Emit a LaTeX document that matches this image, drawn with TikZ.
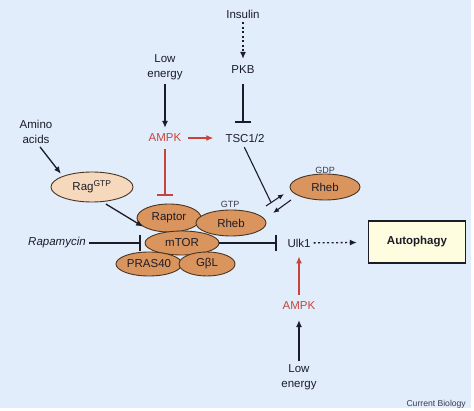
\documentclass[tikz,border=0pt]{standalone}
\usepackage{fontspec}
\setmainfont{Liberation Sans}
\usetikzlibrary{arrows.meta,shapes.geometric}
\definecolor{bgcol}{HTML}{E1EDFB}
\definecolor{redc}{HTML}{C8433A}
\definecolor{darkc}{HTML}{1C1C28}
\definecolor{orfill}{HTML}{DA945E}
\definecolor{ragfill}{HTML}{F6D8BC}
\definecolor{ellline}{HTML}{4A3422}
\definecolor{autofill}{HTML}{FFFDE0}
\definecolor{smallc}{HTML}{3A3A4A}
\begin{document}
\begin{tikzpicture}[x=1pt,y=-1pt,
  lbl/.style={font=\fontsize{11.5}{15}\selectfont, text=darkc, inner sep=2pt, align=center},
  redlbl/.style={lbl, text=redc},
  small/.style={font=\fontsize{9}{10}\selectfont, text=smallc, inner sep=1pt},
  prot/.style={ellipse, draw=ellline, line width=0.9pt, fill=orfill, inner sep=0pt,
     font=\fontsize{11.5}{14}\selectfont, text=darkc},
  act/.style={-{Latex[length=7pt,width=6pt]}, line width=1.3pt, draw=darkc},
  inh/.style={-{Bar[width=16pt,line width=1.4pt]}, line width=1.3pt, draw=darkc},
  dotact/.style={act, dash pattern=on 2pt off 2.5pt},
]
\useasboundingbox (0,0) rectangle (474,411);
\fill[bgcol] (0,0) rectangle (471,408);

% text nodes
\node[lbl] (ins) at (243,14) {Insulin};
\node[lbl] (pkb) at (243,70) {PKB};
\node[lbl] (le1) at (165,67) {Low\\energy};
\node[redlbl] (ampk1) at (165,138) {AMPK};
\node[lbl] (tsc) at (245,138) {TSC1/2};
\node[lbl] (amino) at (36,132) {Amino\\acids};
\node[lbl, font=\fontsize{11.5}{15}\itshape] (rapa) at (57,243) {Rapamycin};
\node[lbl] (ulk) at (299,243) {Ulk1};
\node[redlbl] (ampk2) at (299,306) {AMPK};
\node[lbl] (le2) at (299,377) {Low\\energy};
\node[font=\fontsize{8.6}{10}\selectfont, text=smallc, anchor=east, inner sep=0pt] (cb) at (466,404) {Current Biology};

% ellipses
\node[prot, fill=ragfill, minimum width=82pt, minimum height=30pt] (rag) at (92,187) {Rag\textsuperscript{\fontsize{8.5}{9}\selectfont GTP}};
\node[prot, minimum width=70pt, minimum height=26pt] (rhebgdp) at (325,187) {Rheb};
\node[small] (gdp) at (325,170) {GDP};
\node[prot, minimum width=64pt, minimum height=28pt] (raptor) at (169,218) {Raptor};
\node[prot, minimum width=70pt, minimum height=26pt] (rhebgtp) at (231,223) {Rheb};
\node[small] (gtp) at (230,204) {GTP};
\node[prot, minimum width=74pt, minimum height=24pt] (mtor) at (182,243) {mTOR};
\node[prot, minimum width=66pt, minimum height=24pt] (pras) at (149,264) {PRAS40};
\node[prot, minimum width=56pt, minimum height=24pt] (gbl) at (207,264) {GβL};

% autophagy box
\node[draw=darkc, line width=1.4pt, fill=autofill, minimum width=97pt, minimum height=42pt,
  font=\fontsize{11.5}{14}\bfseries, text=darkc] (auto) at (417,242) {Autophagy};

% coordinates for the Rheb exchange arrows
\coordinate (a1s) at (266,206);
\coordinate (a1e) at (284,194);
\coordinate (a2s) at (291,200);
\coordinate (a2e) at (273,213);
\coordinate (tscend) at (271,202.5);

% connectors
\draw[dotact, shorten <=2pt, shorten >=5pt] (ins) -- (pkb);
\draw[inh, shorten <=8pt, shorten >=9pt] ([xshift=0pt]pkb.south) -- (pkb.south |- tsc.north);
\draw[act, shorten <=2pt, shorten >=4pt] (le1) -- (ampk1);
\draw[act, draw=redc, -{Latex[length=7pt,width=6pt,color=redc]}, shorten <=5pt, shorten >=10pt] (ampk1) -- (tsc);
\draw[inh, draw=redc, -{Bar[width=16pt,line width=1.4pt,color=redc]}, shorten <=5pt, shorten >=8pt] (ampk1.south) -- (ampk1.south |- raptor.north);
\draw[line width=1.1pt, draw=darkc, shorten <=3pt] ([xshift=-2pt]tsc.south) -- (tscend);
\draw[act, line width=1.1pt, -{Latex[length=6pt,width=5pt]}] (a1s) -- (a1e);
\draw[act, line width=1.1pt, -{Latex[length=6pt,width=5pt]}] (a2s) -- (a2e);
\draw[act, shorten >=3pt] ([xshift=4pt,yshift=-1pt]amino.south) -- (rag.north west);
\draw[act, shorten <=4pt, shorten >=1pt] (rag.-55) -- (raptor.200);
\draw[inh, shorten <=1pt, shorten >=4pt] (rapa) -- (mtor);
\draw[inh, shorten >=8.5pt] (mtor) -- (ulk);
\draw[dotact, shorten <=1pt, shorten >=11pt] (ulk) -- (auto);
\draw[act, draw=redc, -{Latex[length=7pt,width=6pt,color=redc]}, shorten <=5pt, shorten >=7pt] (ampk2) -- (ulk);
\draw[act, shorten <=1pt, shorten >=8pt] (le2) -- (ampk2);
\end{tikzpicture}
\end{document}
